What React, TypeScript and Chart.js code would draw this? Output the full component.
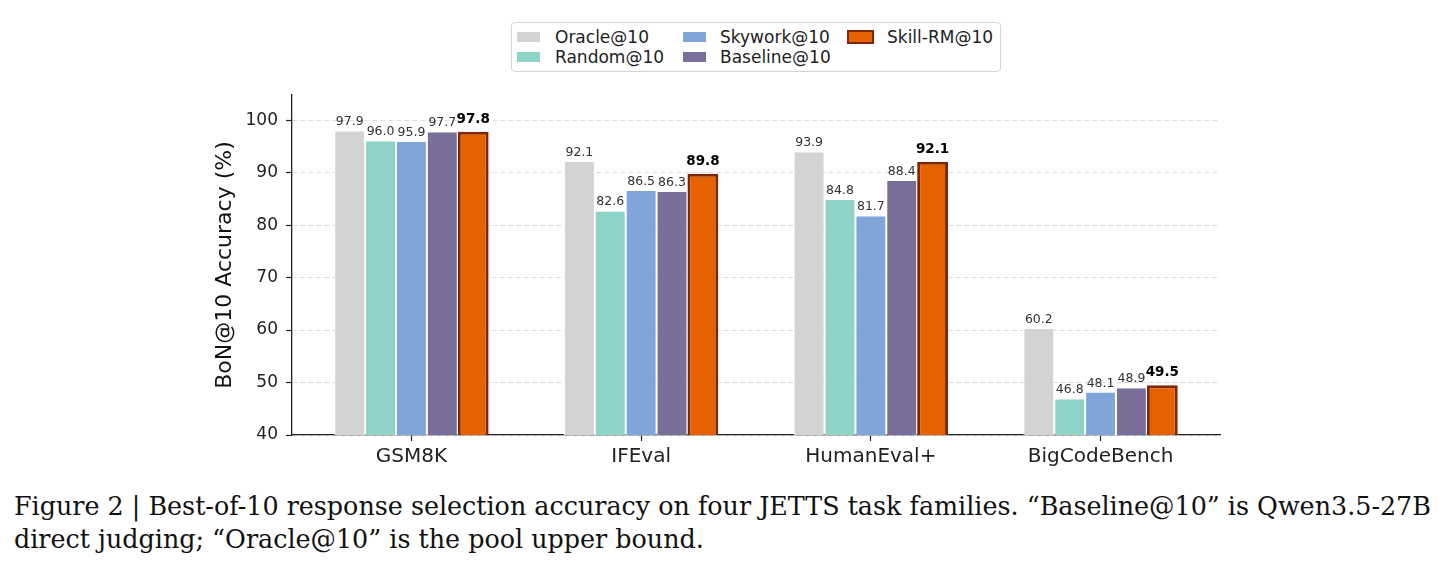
import React, { useEffect, useRef } from "react";
import { Chart, registerables } from "chart.js";

Chart.register(...registerables);

// ---- data ----
const categories = ["GSM8K", "IFEval", "HumanEval+", "BigCodeBench"];
const seriesNames = ["Oracle@10", "Random@10", "Skywork@10", "Baseline@10", "Skill-RM@10"];
const oracle = [97.9, 92.1, 93.9, 60.2];
const random = [96.0, 82.6, 84.8, 46.8];
const skywork = [95.9, 86.5, 81.7, 48.1];
const baseline = [97.7, 86.3, 88.4, 48.9];
const skillRM = [97.8, 89.8, 92.1, 49.5];
const yTicks = [40, 50, 60, 70, 80, 90, 100];
const yMin = 40;
const yMax = 104.8;
const xMin = -0.52;
const xMax = 3.52;

const seriesValues = [oracle, random, skywork, baseline, skillRM];
const fillColors = ["#d3d3d3", "#8dd3c7", "#80a6d9", "#7a6e9a", "#e66100"];
const edgeColor = "#7f2704";
const highlightIndex = 4;

const FONT = "'DejaVu Sans', sans-serif";

const valueLabels = {
  id: "valueLabels",
  afterDatasetsDraw(chart: any) {
    const ctx = chart.ctx;
    chart.data.datasets.forEach((ds: any, di: number) => {
      const meta = chart.getDatasetMeta(di);
      const bold = di === highlightIndex;
      ctx.save();
      ctx.font = bold ? `bold 13.5px ${FONT}` : `12.5px ${FONT}`;
      ctx.fillStyle = bold ? "#000000" : "#333333";
      ctx.textAlign = "center";
      ctx.textBaseline = "alphabetic";
      meta.data.forEach((el: any, i: number) => {
        const v = ds.data[i].y as number;
        ctx.fillText(v.toFixed(1), el.x, el.y - (bold ? 9 : 6));
      });
      ctx.restore();
    });
  },
};

function BarChart() {
  const ref = useRef<HTMLCanvasElement | null>(null);
  useEffect(() => {
    if (!ref.current) return;
    const chart = new Chart(ref.current, {
      type: "bar",
      data: {
        datasets: seriesNames.map((name, i) => ({
          label: name,
          data: seriesValues[i].map((v, j) => ({ x: j, y: v })),
          backgroundColor: fillColors[i],
          borderColor: i === highlightIndex ? edgeColor : "#ffffff",
          borderWidth: i === highlightIndex ? 3 : { left: 1, right: 1, top: 0, bottom: 0 },
          borderSkipped: i === highlightIndex ? false : "start",
          categoryPercentage: 0.672,
          barPercentage: 1.0,
        })),
      },
      options: {
        responsive: false,
        maintainAspectRatio: false,
        animation: false,
        layout: { padding: { left: 208, right: 222, top: 95, bottom: 0 } },
        plugins: {
          legend: { display: false },
          tooltip: { enabled: false },
        },
        scales: {
          x: {
            type: "linear",
            min: xMin,
            max: xMax,
            offset: false,
            afterBuildTicks: (s: any) => {
              s.ticks = categories.map((_, i) => ({ value: i }));
            },
            grid: {
              display: true,
              offset: false,
              drawOnChartArea: false,
              drawTicks: true,
              tickLength: 6,
              tickColor: "#222222",
              tickWidth: 1.2,
            },
            border: { display: true, color: "#222222", width: 1.3 },
            ticks: {
              color: "#222222",
              font: { family: FONT, size: 20 },
              padding: 4,
              maxRotation: 0,
              autoSkip: false,
              callback: (v: any) => categories[Math.round(Number(v))] ?? "",
            },
            afterFit: (s: any) => {
              s.height = 45;
            },
          },
          y: {
            min: yMin,
            max: yMax,
            afterBuildTicks: (s: any) => {
              s.ticks = yTicks.map((v) => ({ value: v }));
            },
            grid: {
              color: "#dddddd",
              lineWidth: 1,
              drawTicks: true,
              tickLength: 6,
              tickColor: "#222222",
              tickWidth: 1.2,
            },
            border: { display: true, color: "#222222", width: 1.3, dash: [5, 3] },
            ticks: {
              color: "#222222",
              font: { family: FONT, size: 17 },
              padding: 8,
            },
            title: {
              display: true,
              text: "BoN@10 Accuracy (%)",
              color: "#111111",
              font: { family: FONT, size: 22 },
              padding: { top: 4, bottom: 4 },
            },
            afterFit: (s: any) => {
              s.width = 84;
            },
          },
        },
      },
      plugins: [valueLabels],
    } as any);
    return () => chart.destroy();
  }, []);
  return <canvas ref={ref} width={1442} height={480} style={{ position: "absolute", left: 0, top: 0 }} />;
}

const legendColumns = [[0, 1], [2, 3], [4]];
const legendSwatchX = [517, 683, 847];
const legendTextX = [555, 720, 887];
const legendRowY = [36.5, 57];

function Legend() {
  return (
    <div>
      <div
        style={{
          position: "absolute",
          left: 511,
          top: 22,
          width: 490,
          height: 50,
          boxSizing: "border-box",
          border: "1px solid #d4d4d4",
          borderRadius: 4,
          background: "#ffffff",
        }}
      />
      {legendColumns.map((col, ci) =>
        col.map((si, ri) => {
          const hl = si === highlightIndex;
          const w = hl ? 27 : 23;
          const h = hl ? 14 : 10;
          return (
            <React.Fragment key={si}>
              <div
                style={{
                  position: "absolute",
                  left: legendSwatchX[ci],
                  top: legendRowY[ri] - h / 2,
                  width: w,
                  height: h,
                  boxSizing: "border-box",
                  background: fillColors[si],
                  border: hl ? `2.5px solid ${edgeColor}` : "none",
                }}
              />
              <div
                style={{
                  position: "absolute",
                  left: legendTextX[ci],
                  top: legendRowY[ri] - 10,
                  height: 20,
                  lineHeight: "20px",
                  fontFamily: FONT,
                  fontSize: 17,
                  color: "#222222",
                  whiteSpace: "nowrap",
                }}
              >
                {seriesNames[si]}
              </div>
            </React.Fragment>
          );
        })
      )}
    </div>
  );
}

export default function App() {
  return (
    <div style={{ position: "absolute", left: 0, top: 0, width: 1442, height: 569, background: "#ffffff" }}>
      <BarChart />
      <Legend />
      <div
        style={{
          position: "absolute",
          left: 14,
          top: 490,
          fontFamily: "'DejaVu Serif', serif",
          fontSize: 25.4,
          lineHeight: "33px",
          color: "#111111",
          whiteSpace: "nowrap",
        }}
      >
        Figure 2 | Best-of-10 response selection accuracy on four JETTS task families. “Baseline@10” is Qwen3.5-27B
        <br />
        direct judging; “Oracle@10” is the pool upper bound.
      </div>
    </div>
  );
}
